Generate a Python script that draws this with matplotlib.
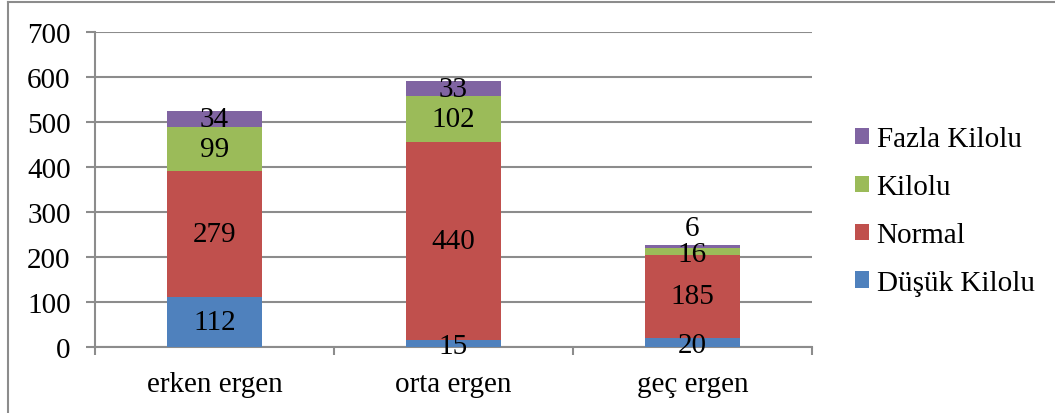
import matplotlib
matplotlib.use("Agg")
import matplotlib.pyplot as plt
from matplotlib.lines import Line2D
from matplotlib.patches import Patch
import numpy as np

categories = ["erken ergen", "orta ergen", "geç ergen"]
series_names = ["Düşük Kilolu", "Normal", "Kilolu", "Fazla Kilolu"]
dusuk = [112, 15, 20]
normal = [279, 440, 185]
kilolu = [99, 102, 16]
fazla = [34, 33, 6]
colors = ["#4F81BD", "#C0504D", "#9BBB59", "#8064A2"]

plt.rcParams['font.family'] = ['Liberation Serif', 'DejaVu Serif']

fig = plt.figure(figsize=(10.55, 4.14), dpi=100)
W, H = 1055, 414
ax = fig.add_axes([95 / W, 1 - 348 / H, (812 - 95) / W, (348 - 33) / H])

x = np.arange(len(categories))
data = [dusuk, normal, kilolu, fazla]
bottom = np.zeros(len(categories))
fs = 21
for vals, col, name in zip(data, colors, series_names):
    vals = np.array(vals, dtype=float)
    ax.bar(x, vals, width=0.40, bottom=bottom, color=col, label=name, zorder=3,
           edgecolor='none')
    for i, v in enumerate(vals):
        cy = bottom[i] + v / 2
        if v < 10:
            cy = bottom[i] + v + 38
        elif v < 25:
            cy = bottom[i] + v / 2 - 6
        ax.text(x[i], cy, f"{int(v)}", ha='center', va='center', fontsize=fs,
                color='black', zorder=5)
    bottom += vals

ax.set_xlim(-0.5, 2.5)
ax.set_ylim(0, 700)
ax.set_yticks(range(0, 701, 100))
ax.yaxis.grid(True, color='#8C8C8C', linewidth=1.5, zorder=0)
ax.set_axisbelow(True)
for s in ['top', 'right']:
    ax.spines[s].set_visible(False)
ax.spines['left'].set_color('#8C8C8C')
ax.spines['left'].set_linewidth(1.5)
ax.spines['bottom'].set_color('#8C8C8C')
ax.spines['bottom'].set_linewidth(1.5)
ax.set_xticks(x)
ax.set_xticklabels(categories, fontsize=fs)
ax.tick_params(axis='x', length=0, pad=17)
ax.set_xticks([-0.5, 0.5, 1.5, 2.5], minor=True)
ax.tick_params(axis='x', which='minor', length=6, width=1.5, color='#8C8C8C', direction='out')
ax.tick_params(axis='y', length=6.5, width=1.5, color='#8C8C8C', labelsize=fs, pad=11)

handles = [Patch(facecolor=c, edgecolor='none') for c in colors[::-1]]
leg = fig.legend(handles, series_names[::-1], loc='upper left',
                 bbox_to_anchor=(829 / W, 1 - 101 / H), frameon=False,
                 fontsize=fs, handlelength=0.48, handleheight=0.48,
                 handletextpad=0.25, labelspacing=0.75)

# outer chart border (left and top visible)
fig.add_artist(Line2D([8 / W, 8 / W], [0, 1 - 3 / H], transform=fig.transFigure,
                      color='#8C8C8C', linewidth=1.5))
fig.add_artist(Line2D([8 / W, 1], [1 - 3 / H, 1 - 3 / H], transform=fig.transFigure,
                      color='#8C8C8C', linewidth=1.5))

fig.savefig("out.png", dpi=100)
